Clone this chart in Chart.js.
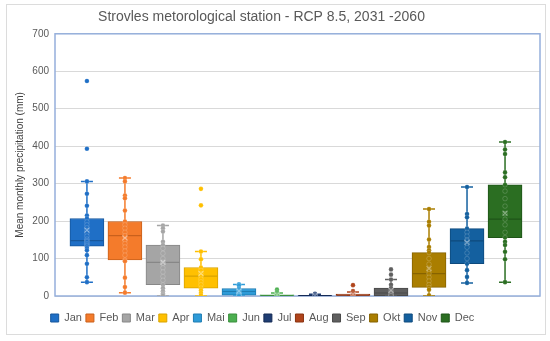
<!DOCTYPE html>
<html>
<head>
<meta charset="utf-8">
<script src="https://cdn.jsdelivr.net/npm/chart.js@4.4.1/dist/chart.umd.min.js"></script>
<style>
  html, body { margin: 0; padding: 0; background: #ffffff; }
  #frame { position: absolute; left: 6px; top: 4px; width: 538px; height: 329px; border: 1px solid #dcdcdc; background: #fff; }
  #frame canvas { display: block; }
</style>
</head>
<body>
<div id="frame"><canvas id="c"></canvas></div>
<script>
// ---- data ----
const months = ['Jan','Feb','Mar','Apr','Mai','Jun','Jul','Aug','Sep','Okt','Nov','Dec'];
const q1      = [133,  96,  30,  21,  2, 0, 0, 0,  1,  23,  86, 156];
const median  = [148, 161,  90,  53, 12, 1, 1, 2,  8,  60, 147, 205];
const q3      = [207, 199, 136,  76, 20, 3, 2, 5, 21, 116, 180, 297];
const whiskLo = [ 37,   9,   0,   0,  0, 0, 0, 0,  0,   0,  35,  37];
const whiskHi = [306, 315, 188, 119, 31, 8, 5, 11, 44, 232, 291, 411];
const means   = [176, 155,  90,  60, 13, 3, 1, 4, 15,  73, 143, 221];
const pointsJan = [574, 393, 306, 273, 241, 215, 207, 198, 190, 182, 175, 168, 160, 152, 148, 145, 140, 136, 133, 128, 122, 109, 86, 50, 37];
const pointsFeb = [315, 306, 268, 261, 228, 199, 190, 181, 170, 161, 149, 140, 131, 120, 109, 96, 93, 49, 24, 9];
const pointsMar = [188, 181, 172, 145, 136, 127, 114, 100, 90, 87, 75, 64, 52, 42, 30, 21, 13, 7, 4, 1];
const pointsApr = [286, 242, 119, 98, 76, 68, 60, 53, 45, 38, 30, 21, 15, 8, 2];
const pointsMai = [31, 28, 20, 16, 12, 8, 5, 2, 1, 0];
const pointsJun = [17, 11, 8, 5, 3, 2, 1, 0];
const pointsJul = [6, 4, 2, 1, 0];
const pointsAug = [29, 13, 10, 6, 4, 2, 1, 0];
const pointsSep = [71, 57, 44, 30, 21, 15, 10, 8, 5, 2, 1, 0];
const pointsOkt = [232, 198, 188, 151, 131, 122, 116, 100, 85, 70, 60, 50, 40, 30, 23, 17, 2];
const pointsNov = [291, 219, 210, 180, 170, 160, 150, 147, 140, 130, 115, 100, 86, 69, 51, 35];
const pointsDec = [411, 391, 379, 330, 317, 297, 280, 260, 240, 220, 205, 190, 170, 156, 145, 136, 118, 98, 37];
const yTicks = [0, 100, 200, 300, 400, 500, 600, 700];

// ---- styling ----
const colors  = ['#1F6FC6','#F47B2B','#A5A5A5','#FFC000','#2E9BD8','#4CAF50','#1F3D73','#B0441B','#5F5F5F','#AA7E00','#14609F','#2B6E22'];
const darks   = ['#17579C','#C9601C','#878787','#D9A300','#1F7DB3','#3A8F3D','#152B55','#8A3210','#4A4A4A','#876300','#0E4A7D','#1F5518'];
const allPoints = [pointsJan, pointsFeb, pointsMar, pointsApr, pointsMai, pointsJun, pointsJul, pointsAug, pointsSep, pointsOkt, pointsNov, pointsDec];

const datasets = [];
months.forEach((m, i) => {
  const x = i + 1;
  datasets.push({
    type: 'line', isBox: false,
    data: [{x: x, y: whiskLo[i]}, {x: x, y: whiskHi[i]}],
    borderColor: colors[i], borderWidth: 1.5, pointRadius: 0, order: 6
  });
  datasets.push({
    type: 'bar', isBox: true, label: m,
    data: [{x: x, y: [q1[i], q3[i]]}],
    backgroundColor: colors[i], borderColor: darks[i], borderWidth: 1,
    borderSkipped: false, barThickness: 34, grouped: false, order: 5
  });
  datasets.push({
    type: 'scatter', isBox: false,
    data: allPoints[i].map(v => ({x: x, y: v})),
    backgroundColor: colors[i], borderColor: 'rgba(255,255,255,0.22)', borderWidth: 0.8,
    pointRadius: 2.3, order: 2
  });
});
// whisker caps
const capData = [], capColors = [];
months.forEach((m, i) => {
  capData.push({x: i + 1, y: whiskLo[i]}); capColors.push(colors[i]);
  capData.push({x: i + 1, y: whiskHi[i]}); capColors.push(colors[i]);
});
datasets.push({ type: 'scatter', isBox: false, data: capData, pointStyle: 'line', pointRadius: 6,
  borderColor: capColors, borderWidth: 1.5, order: 4 });
// medians
datasets.push({ type: 'scatter', isBox: false, data: median.map((v, i) => ({x: i + 1, y: v})),
  pointStyle: 'line', pointRadius: 16.5, borderColor: darks, borderWidth: 1.2, order: 3 });
// means
datasets.push({ type: 'scatter', isBox: false, data: means.map((v, i) => ({x: i + 1, y: v})),
  pointStyle: 'crossRot', pointRadius: 3.5, borderColor: 'rgba(255,255,255,0.4)', borderWidth: 1.2, order: 1 });

const framePlugin = {
  id: 'frame',
  beforeDatasetsDraw(chart) {
    const a = chart.chartArea, ctx = chart.ctx;
    ctx.save();
    ctx.strokeStyle = '#95AFDB';
    ctx.lineWidth = 1.5;
    ctx.strokeRect(a.left, a.top, a.right - a.left, a.bottom - a.top);
    ctx.restore();
  }
};
const shiftPlugin = {
  id: 'shift',
  afterLayout(chart) {
    if (chart.titleBlock) { chart.titleBlock.left -= 12; chart.titleBlock.right -= 12; }
    if (chart.legend) { chart.legend.left -= 11; chart.legend.right -= 11; }
  }
};

const FONT = "'Liberation Sans', Arial, sans-serif";
new Chart(document.getElementById('c'), {
  type: 'bar',
  data: { datasets: datasets },
  plugins: [framePlugin, shiftPlugin],
  options: {
    responsive: true, maintainAspectRatio: false, animation: false,
    layout: { autoPadding: false, padding: { left: 0, right: 5, top: 0, bottom: 0.5 } },
    plugins: {
      tooltip: { enabled: false },
      title: { display: true, text: 'Strovles metorological station - RCP 8.5, 2031 -2060',
        color: '#595959', font: { family: FONT, size: 14, weight: 'normal' }, padding: { top: 4, bottom: 8 } },
      legend: { position: 'bottom',
        labels: { filter: (item, data) => data.datasets[item.datasetIndex].isBox,
          boxWidth: 8, boxHeight: 8, padding: 4, color: '#595959', font: { family: FONT, size: 11 } } }
    },
    scales: {
      x: { type: 'linear', min: 0.16, max: 12.92, offset: false,
        ticks: { display: false }, grid: { display: false }, border: { display: false },
        afterFit: s => { s.height = 12.5; } },
      y: { min: 0, max: 700,
        afterBuildTicks: s => { s.ticks = yTicks.map(v => ({ value: v })); },
        ticks: { padding: 6, color: '#595959', font: { family: FONT, size: 10 } },
        grid: { color: '#D9D9D9', lineWidth: 1, drawTicks: false },
        border: { display: false },
        title: { display: true, text: 'Mean monthly precipitation (mm)', color: '#404040',
          font: { family: FONT, size: 10 }, padding: { top: 7, bottom: 0 } },
        afterFit: s => { s.width = 48; } }
    }
  }
});
</script>
</body>
</html>
